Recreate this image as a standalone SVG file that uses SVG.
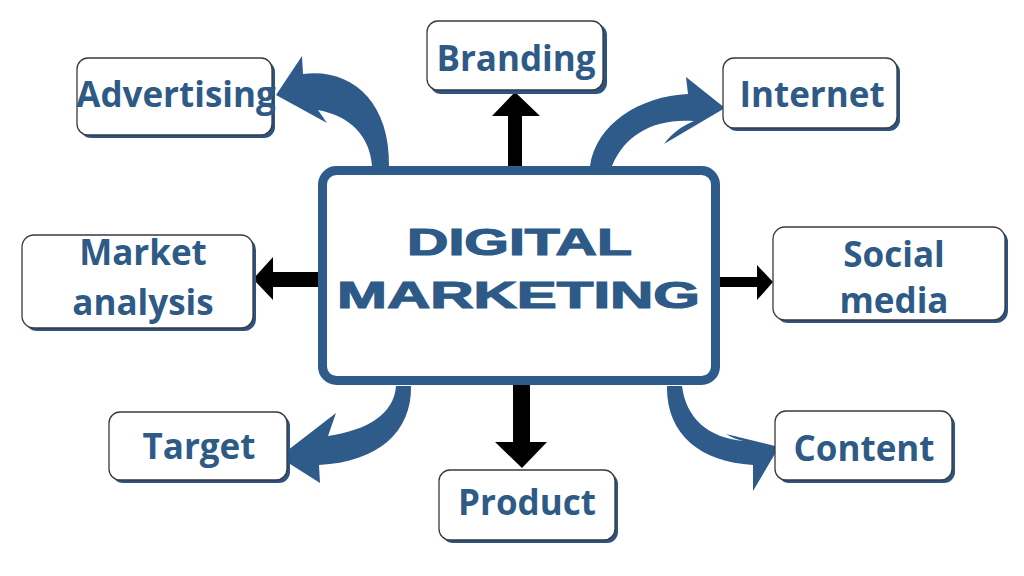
<svg xmlns="http://www.w3.org/2000/svg" width="1024" height="576" viewBox="0 0 1024 576">
<defs>
<style>
.sh{fill:#2c5482}
.bx{fill:#fff;stroke:#3a3a3a;stroke-width:1.3}
.lb{font-family:"Open Sans","Liberation Sans",sans-serif;font-weight:700;font-size:35px;fill:#2e5a86;text-anchor:middle}
.ct{font-family:"Liberation Sans","Arial",sans-serif;font-weight:700;font-size:37px;fill:#2e5a88;stroke:#2e5a88;stroke-width:1.2}
.blk{fill:#000}
.blu{fill:#2e5b8a}
</style>
</defs>
<rect width="1024" height="576" fill="#fff"/>
<g id="connectors">
<path class="blu" d="M 372 166 C 370 136 350 116 318 110 L 327 123 L 276 95 L 302 56 L 303 74 C 350 68 390 100 389 166 Z"/>
<path class="blu" d="M 590 166 C 596 124 640 96 688 94 L 686 77 L 725 108 L 664 144 C 672 133 682 126 694 121 C 655 118 625 134 612 166 Z"/>
<path class="blu" d="M 396 386 C 394 414 368 430 328 436 L 336 413 L 279 457 L 320 483 L 319 465 C 378 462 412 432 411 386 Z"/>
<path class="blu" d="M 667 386 C 666 434 700 462 753 465 L 753 491 L 779 447 L 726 434 C 733 438 738 440 744 441 C 708 438 686 418 682 386 Z"/>
<path class="blk" d="M 508 172 L 508 116 L 492 116 L 515 92 L 540 116 L 522 116 L 522 172 Z"/>
<path class="blk" d="M 513 385 L 513 442 L 495 442 L 522 468 L 547 442 L 530 442 L 530 385 Z"/>
<path class="blk" d="M 322 272 L 273 272 L 273 257 L 253 279 L 273 300 L 273 287 L 322 287 Z"/>
<path class="blk" d="M 716 277 L 757 277 L 757 265 L 773 282 L 757 300 L 757 287 L 716 287 Z"/>
</g>
<g id="center">
<rect x="322.5" y="170.5" width="393" height="210" rx="14" fill="#fff" stroke="#2e5b8a" stroke-width="9"/>
<text class="ct" x="407" y="255" textLength="225" lengthAdjust="spacingAndGlyphs">DIGITAL</text>
<text class="ct" x="337" y="308" textLength="363" lengthAdjust="spacingAndGlyphs">MARKETING</text>
</g>
<g id="branding">
<rect class="sh" x="430" y="24" width="177" height="70" rx="11"/>
<rect class="bx" x="427" y="21" width="176" height="69" rx="11"/>
<text class="lb" x="516" y="71">Branding</text>
</g>
<g id="advertising">
<rect class="sh" x="80" y="61" width="195" height="77" rx="11"/>
<rect class="bx" x="77" y="58" width="195" height="77" rx="11"/>
<text class="lb" x="176" y="107">Advertising</text>
</g>
<g id="internet">
<rect class="sh" x="726" y="61" width="174" height="70" rx="11"/>
<rect class="bx" x="723" y="58" width="174" height="70" rx="11"/>
<text class="lb" x="812" y="107">Internet</text>
</g>
<g id="market-analysis">
<rect class="sh" x="25" y="238" width="231" height="93" rx="12"/>
<rect class="bx" x="22" y="235" width="231" height="93" rx="12"/>
<text class="lb" x="143" y="265">Market</text>
<text class="lb" x="143" y="315">analysis</text>
</g>
<g id="social-media">
<rect class="sh" x="776" y="230" width="232" height="93" rx="12"/>
<rect class="bx" x="773" y="227" width="232" height="93" rx="12"/>
<text class="lb" x="894" y="267">Social</text>
<text class="lb" x="894" y="313">media</text>
</g>
<g id="target">
<rect class="sh" x="112" y="415" width="178" height="68" rx="11"/>
<rect class="bx" x="109" y="412" width="178" height="68" rx="11"/>
<text class="lb" x="199" y="459">Target</text>
</g>
<g id="content">
<rect class="sh" x="778" y="414" width="177" height="69" rx="11"/>
<rect class="bx" x="775" y="411" width="177" height="69" rx="11"/>
<text class="lb" x="864" y="461">Content</text>
</g>
<g id="product">
<rect class="sh" x="442" y="473" width="176" height="70" rx="11"/>
<rect class="bx" x="439" y="470" width="176" height="70" rx="11"/>
<text class="lb" x="527" y="515">Product</text>
</g>
</svg>
